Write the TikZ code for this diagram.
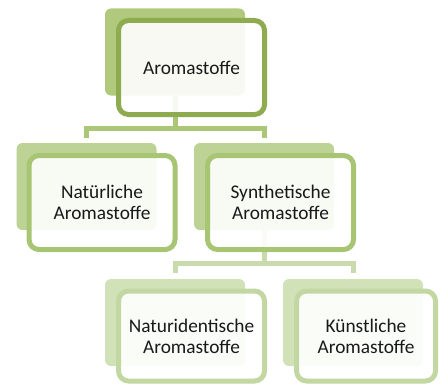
\documentclass[tikz,border=0pt]{standalone}
\usepackage{fontspec}
\setmainfont{Carlito}
\definecolor{backone}{HTML}{B0C97C}
\definecolor{lineone}{HTML}{8EAB50}
\definecolor{backtwo}{HTML}{BDD396}
\definecolor{linetwo}{HTML}{A8C574}
\definecolor{backthree}{HTML}{D2E2B8}
\definecolor{linethree}{HTML}{C3D7A2}
\definecolor{linkone}{HTML}{ABC676}
\definecolor{linktwo}{HTML}{C9DBAD}
\begin{document}
\begin{tikzpicture}[x=0.75pt,y=-0.75pt,
	backbox/.style={fill=#1,draw=none,rounded corners=4.5pt,inner sep=0pt,
		minimum width=105pt,minimum height=65.25pt},
	frontbox/.style={draw=#1,line width=3.75pt,fill=white,fill opacity=0.9,text opacity=1,
		rounded corners=7.5pt,inner sep=0pt,minimum width=109.5pt,minimum height=70.5pt,
		align=center,text=black!90,font=\fontsize{14.5}{15.8}\selectfont},
	link/.style={draw=#1,line width=3.75pt}]
			\useasboundingbox (0,0) rectangle (441,385);
			% back plates
			\node[backbox=backone] (aroma-back) at (175,52) {};
			\node[backbox=backtwo] (nat-back) at (86.5,186.5) {};
			\node[backbox=backtwo] (syn-back) at (264,186.5) {};
			\node[backbox=backthree] (ident-back) at (175,322.5) {};
			\node[backbox=backthree] (kunst-back) at (353,322.5) {};
			% connectors
			\draw[link=linkone] (aroma-back.south) -- ++(0,33) -| ([yshift=3.75pt]nat-back.north);
			\draw[link=linkone] (aroma-back.south) -- ++(0,33) -| ([yshift=3.75pt]syn-back.north);
			\draw[link=linktwo] (syn-back.south) -- ++(0,33) -| ([yshift=4.5pt]ident-back.north);
			\draw[link=linktwo] (syn-back.south) -- ++(0,33) -| ([yshift=4.5pt]kunst-back.north);
			% front boxes
			\node[frontbox=lineone] (aroma) at (191.5,67.5) {Aromastoffe};
			\node[frontbox=linetwo] (nat) at (102,202.5) {Natürliche\\Aromastoffe};
			\node[frontbox=linetwo] (syn) at (280.5,202.5) {Synthetische\\Aromastoffe};
			\node[frontbox=linethree,minimum height=67.5pt] (ident) at (191.5,336) {Naturidentische\\Aromastoffe};
			\node[frontbox=linethree,minimum height=67.5pt,minimum width=104.25pt] (kunst) at (366,336) {Künstliche\\Aromastoffe};
	\end{tikzpicture}
\end{document}
